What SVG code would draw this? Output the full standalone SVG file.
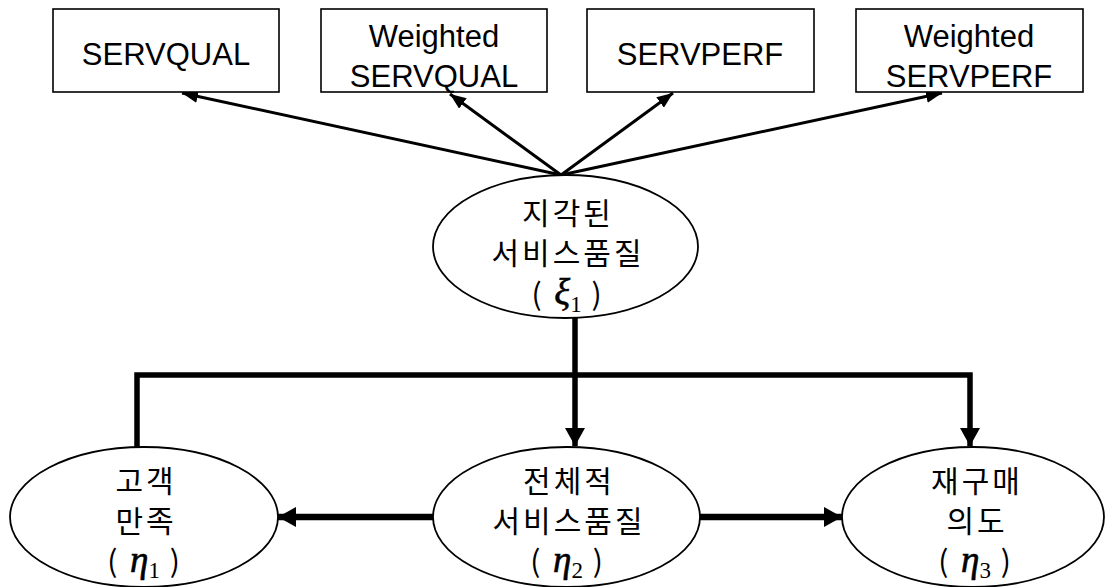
<svg xmlns="http://www.w3.org/2000/svg" width="1107" height="587" viewBox="0 0 1107 587">
  <style>
    .box { fill: #fff; stroke: #000; stroke-width: 1.6; }
    .ell { fill: #fff; stroke: #000; stroke-width: 1.8; }
    .lat { font-family: "Liberation Sans", Arial, sans-serif; font-size: 31px; fill: #000; text-anchor: middle; }
    .ko { font-family: "Noto Sans CJK KR", "Liberation Sans", sans-serif; font-size: 30px; fill: #000; text-anchor: middle; letter-spacing: 3px; }
    .gr { font-family: "Liberation Serif", "Times New Roman", serif; font-style: italic; letter-spacing: 0; stroke: #000; stroke-width: 0.6; }
    .sub { font-family: "Liberation Serif", "Times New Roman", serif; font-size: 23px; letter-spacing: 0; }
    .thin { fill: none; stroke: #000; stroke-width: 3; }
    .thick { fill: none; stroke: #000; stroke-width: 5.5; }
    .thicker { fill: none; stroke: #000; stroke-width: 6.5; }
  </style>
  <defs>
    <marker id="ah" markerUnits="userSpaceOnUse" markerWidth="17" markerHeight="13" refX="16" refY="6.5" orient="auto">
      <path d="M0,0 L16,6.5 L0,13 Z" fill="#000"/>
    </marker>
    <marker id="ahb" markerUnits="userSpaceOnUse" markerWidth="19" markerHeight="20" refX="18" refY="10" orient="auto">
      <path d="M0,0 L18,10 L0,20 Z" fill="#000"/>
    </marker>
  </defs>

  <!-- connectors -->
  <g id="connectors">
    <line class="thin" x1="561" y1="175" x2="182" y2="93" marker-end="url(#ah)"/>
    <line class="thin" x1="561" y1="175" x2="450" y2="94" marker-end="url(#ah)"/>
    <line class="thin" x1="561" y1="175" x2="673" y2="93" marker-end="url(#ah)"/>
    <line class="thin" x1="561" y1="175" x2="942" y2="93" marker-end="url(#ah)"/>
    <line class="thick" x1="575" y1="318" x2="575" y2="446" marker-end="url(#ahb)"/>
    <path class="thick" d="M137,449 V375 H970 V446" marker-end="url(#ahb)"/>
    <line class="thicker" x1="433" y1="517" x2="278" y2="517" marker-end="url(#ahb)"/>
    <line class="thicker" x1="700" y1="517" x2="842" y2="517" marker-end="url(#ahb)"/>
  </g>

  <!-- observed measures -->
  <g id="servqual">
    <rect class="box" x="53" y="9" width="226" height="83"/>
    <text class="lat" x="166" y="65">SERVQUAL</text>
  </g>
  <g id="weighted-servqual">
    <rect class="box" x="321" y="9" width="226" height="83"/>
    <text class="lat" x="434" y="47">Weighted<tspan x="434" dy="40">SERVQUAL</tspan></text>
  </g>
  <g id="servperf">
    <rect class="box" x="587" y="9" width="227" height="83"/>
    <text class="lat" x="700" y="65">SERVPERF</text>
  </g>
  <g id="weighted-servperf">
    <rect class="box" x="856" y="9" width="227" height="83"/>
    <text class="lat" x="969" y="47">Weighted<tspan x="969" dy="40">SERVPERF</tspan></text>
  </g>

  <!-- latent constructs -->
  <g id="xi1">
    <ellipse class="ell" cx="565.5" cy="246.5" rx="132.5" ry="71.5"/>
    <text class="ko" x="568" y="224">지각된<tspan x="568" dy="40">서비스품질</tspan><tspan x="568" dy="41">( </tspan><tspan class="gr" font-size="37">ξ</tspan><tspan class="sub" dy="7">1</tspan><tspan dy="-7"> )</tspan></text>
  </g>
  <g id="eta1">
    <ellipse class="ell" cx="144" cy="517" rx="134" ry="70"/>
    <text class="ko" x="146" y="492">고객<tspan x="146" dy="40">만족</tspan><tspan x="145" dy="40">( </tspan><tspan class="gr" font-size="37">η</tspan><tspan class="sub" dy="6">1</tspan><tspan dy="-6"> )</tspan></text>
  </g>
  <g id="eta2">
    <ellipse class="ell" cx="566.5" cy="517" rx="133.5" ry="70"/>
    <text class="ko" x="569" y="492">전체적<tspan x="569" dy="40">서비스품질</tspan><tspan x="568" dy="40">( </tspan><tspan class="gr" font-size="37">η</tspan><tspan class="sub" dy="6">2</tspan><tspan dy="-6"> )</tspan></text>
  </g>
  <g id="eta3">
    <ellipse class="ell" cx="973" cy="517" rx="131" ry="70"/>
    <text class="ko" x="977" y="492">재구매<tspan x="977" dy="40">의도</tspan><tspan x="976" dy="40">( </tspan><tspan class="gr" font-size="37">η</tspan><tspan class="sub" dy="6">3</tspan><tspan dy="-6"> )</tspan></text>
  </g>
</svg>
